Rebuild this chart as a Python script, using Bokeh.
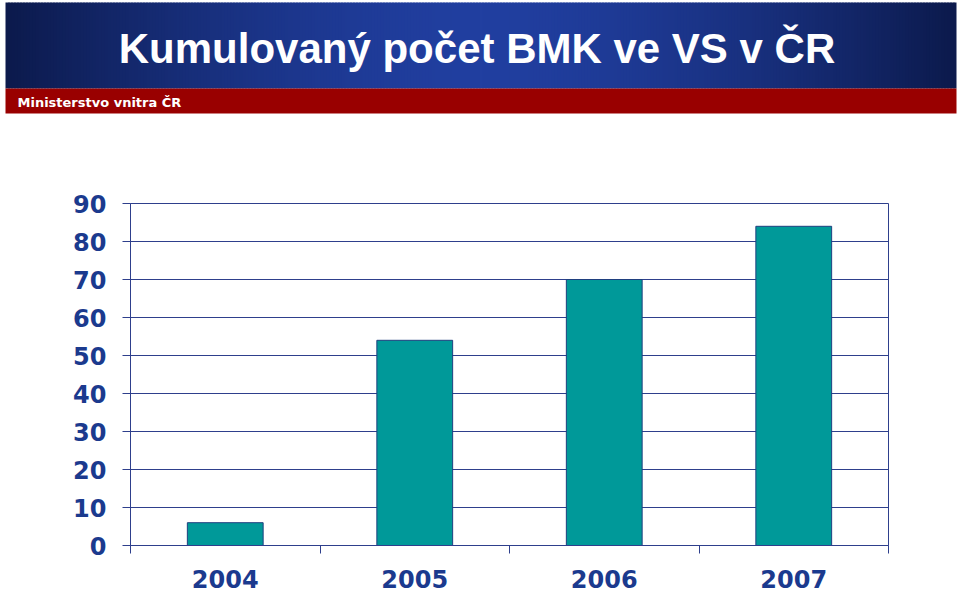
import numpy as np
from bokeh.plotting import figure
from bokeh.models import Range1d, FixedTicker, ColumnDataSource
from bokeh.core.properties import value
from bokeh.embed import file_html
from bokeh.resources import INLINE

# ---- data ----
title_text = "Kumulovaný počet BMK ve VS v ČR"
subtitle_text = "Ministerstvo vnitra ČR"
years = ["2004", "2005", "2006", "2007"]
counts = [6, 54, 70, 84]
y_ticks = [0, 10, 20, 30, 40, 50, 60, 70, 80, 90]

TEXT = "#1b3a8e"
LINE = "#2e3f8c"
BAR = "#009999"

W = 960
HH = 115
CH = 480

# ---- header ----
h = figure(width=W, height=HH, x_range=Range1d(0, W), y_range=Range1d(HH, 0),
           output_backend="svg", toolbar_location=None,
           x_axis_type=None, y_axis_type=None, min_border=0)
h.grid.visible = False
h.outline_line_color = None
h.background_fill_color = "white"
h.border_fill_color = "white"

edges = np.arange(5, 956, 3)
t = (edges + 1.5 - 480.5) / 475.5
wgt = np.clip(1 - np.abs(t) ** 1.6, 0, 1)
c0 = np.array([12, 26, 76])
c1 = np.array([33, 63, 160])
cols = ["#%02x%02x%02x" % tuple((c0 + (c1 - c0) * w).astype(int)) for w in wgt]
h.quad(left=edges, right=np.minimum(edges + 4, 956), top=2, bottom=88,
       fill_color=cols, line_color=None)
h.quad(left=[5], right=[956], top=[88], bottom=[113], fill_color="#990000", line_color=None)
h.text(x=[476.5], y=[48], text=[title_text], text_color="white",
       text_font=value("Liberation Sans"), text_font_style="bold",
       text_font_size="42px", text_align="center", text_baseline="middle")
h.text(x=[17], y=[101.5], text=[subtitle_text], text_color="white",
       text_font=value("DejaVu Sans"), text_font_style="bold",
       text_font_size="13px", text_align="left", text_baseline="middle")

# ---- chart ----
xs = [i + 0.5 for i in range(len(years))]
src = ColumnDataSource(dict(x=xs, top=counts))
p = figure(width=W, height=CH, x_range=Range1d(0, 4), y_range=Range1d(0, 90),
           output_backend="svg", toolbar_location=None,
           min_border_left=130, min_border_right=72, min_border_top=88, min_border_bottom=50)
p.background_fill_color = "white"
p.border_fill_color = "white"
p.outline_line_color = LINE
p.outline_line_width = 1

p.vbar(x="x", top="top", width=0.4, bottom=0, source=src,
       fill_color=BAR, line_color="#1f3f7f", line_width=1)

p.xgrid.visible = False
p.ygrid.grid_line_color = LINE
p.ygrid.grid_line_width = 1
p.ygrid.ticker = FixedTicker(ticks=y_ticks)

xa = p.xaxis[0]
xa.ticker = FixedTicker(ticks=xs, minor_ticks=[0, 1, 2, 3, 4])
xa.major_label_overrides = {x: y for x, y in zip(xs, years)}
xa.major_tick_out = 0
xa.major_tick_in = 0
xa.minor_tick_out = 8
xa.minor_tick_in = 0
xa.minor_tick_line_color = LINE
xa.axis_line_color = LINE
xa.major_label_standoff = 16
xa.major_label_text_font = "DejaVu Sans"
xa.major_label_text_font_style = "bold"
xa.major_label_text_font_size = "24px"
xa.major_label_text_color = TEXT

ya = p.yaxis[0]
ya.ticker = FixedTicker(ticks=y_ticks)
ya.major_tick_out = 8
ya.major_tick_in = 0
ya.minor_tick_line_color = None
ya.major_tick_line_color = LINE
ya.axis_line_color = LINE
ya.major_label_standoff = 16
ya.major_label_text_font = "DejaVu Sans"
ya.major_label_text_font_style = "bold"
ya.major_label_text_font_size = "24px"
ya.major_label_text_color = TEXT

open("out.html", "w").write(file_html([h, p], INLINE))
